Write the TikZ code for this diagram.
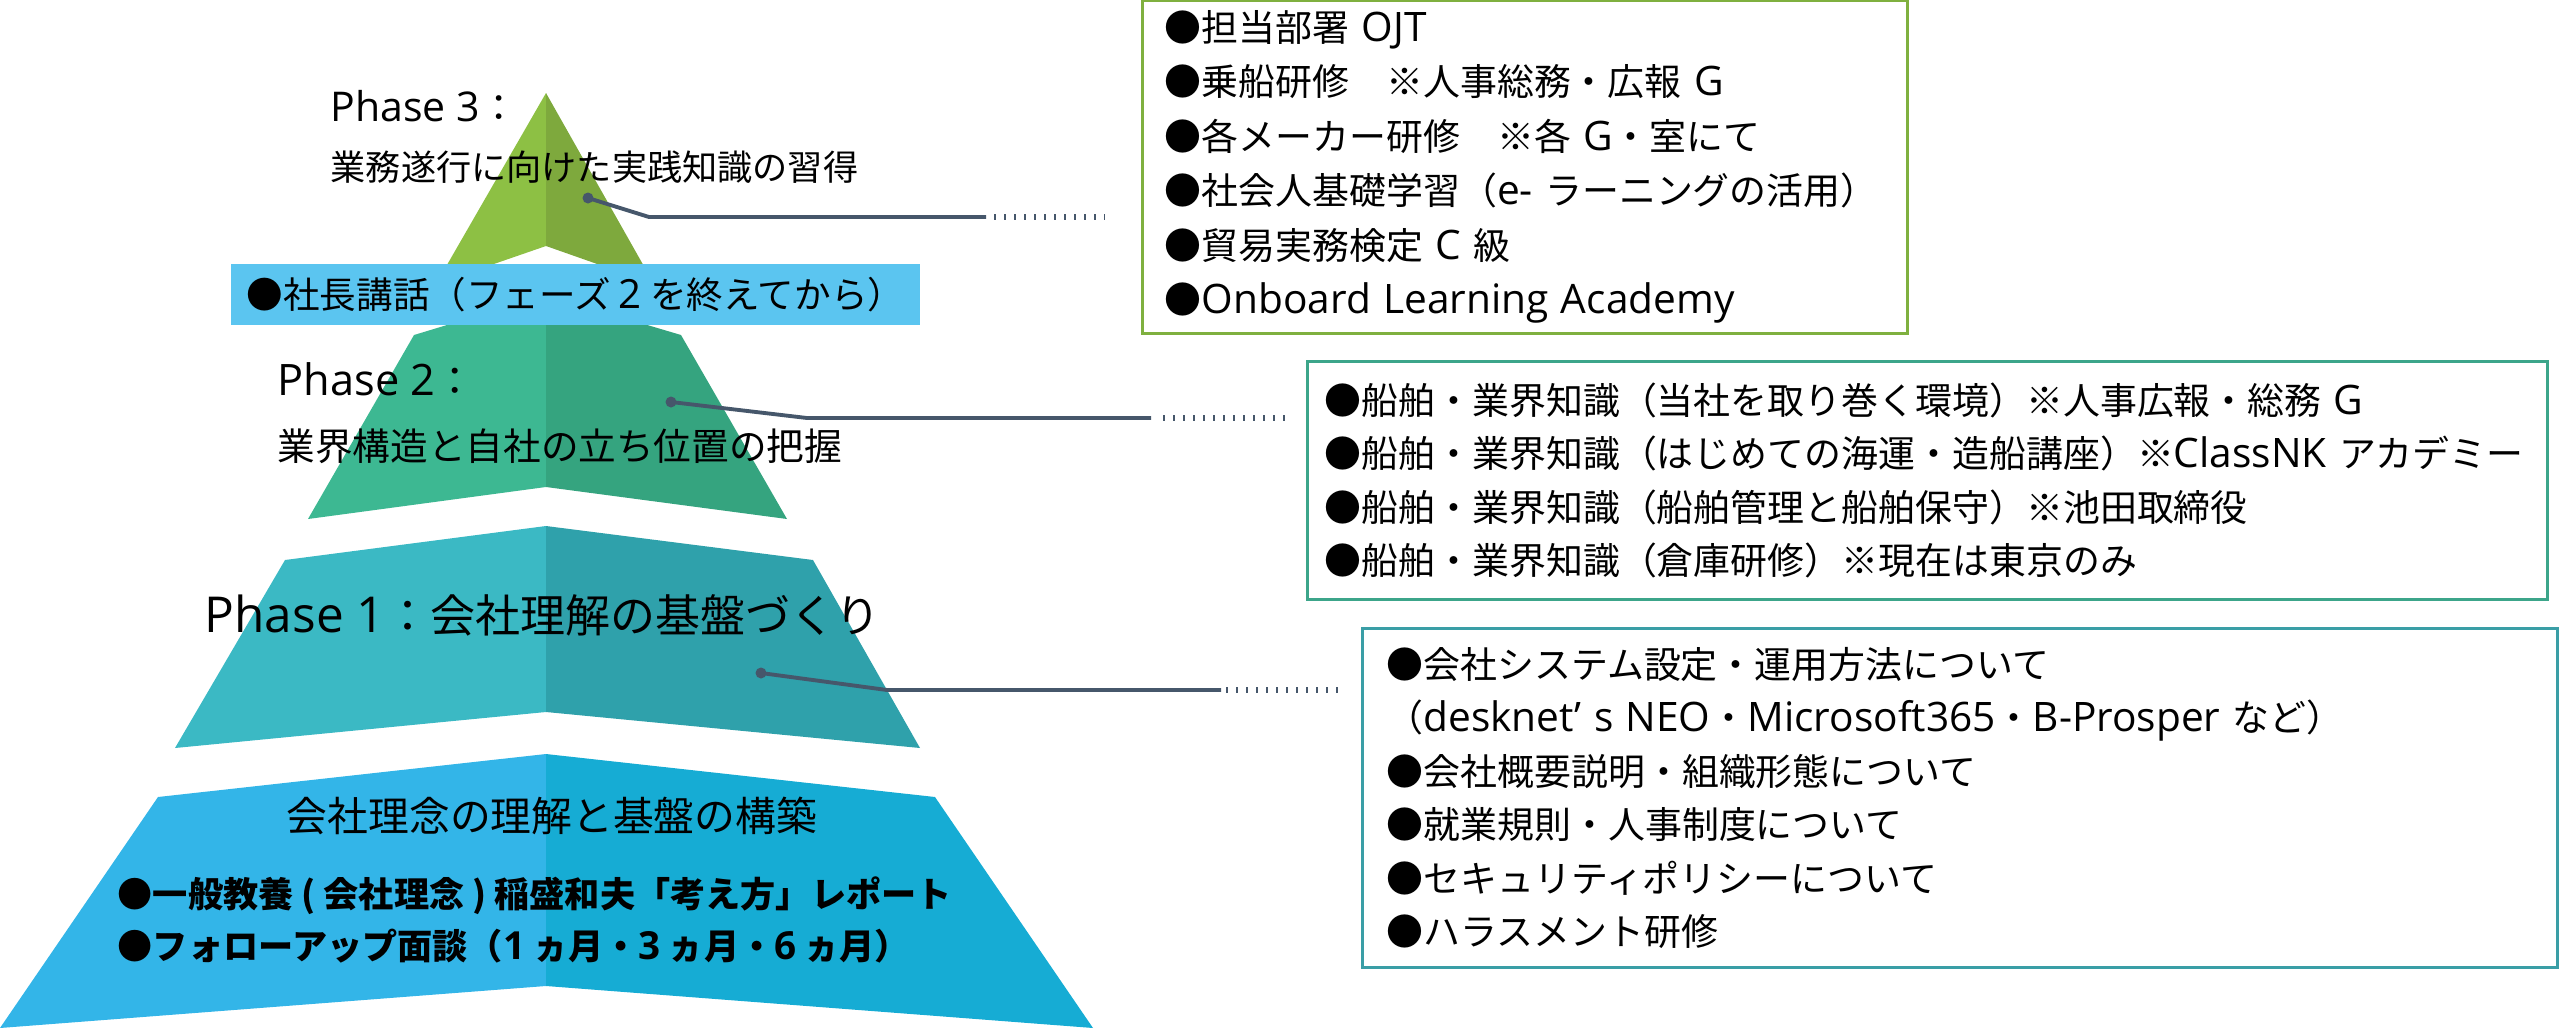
\documentclass[tikz,border=0pt]{standalone}
\usepackage{fontspec}
\setmainfont{Noto Sans CJK JP}
\newfontfamily\latinfont{Open Sans}[Scale=1.1]
\newcommand{\latn}[1]{{\latinfont #1}}

\definecolor{greenL}{HTML}{8DC044}
\definecolor{greenR}{HTML}{7EA93D}
\definecolor{mintL}{HTML}{3DB892}
\definecolor{mintR}{HTML}{35A47F}
\definecolor{tealL}{HTML}{3BB9C4}
\definecolor{tealR}{HTML}{2FA1AB}
\definecolor{skyL}{HTML}{33B5E8}
\definecolor{skyR}{HTML}{16ACD4}
\definecolor{bandblue}{HTML}{5BC5F0}
\definecolor{leadergray}{HTML}{46576B}
\definecolor{frame3}{HTML}{7FB03F}
\definecolor{frame2}{HTML}{3CA58A}
\definecolor{frame1}{HTML}{3A9EA6}

\begin{document}
\begin{tikzpicture}[x=0.01cm, y=-0.01cm,
    phasetext/.style={anchor=west, inner sep=0pt},
    infobox/.style={draw, line width=0.85pt, fill=white, align=left, inner ysep=0pt},
    dotmark/.style={circle, fill=leadergray, inner sep=0pt, minimum size=0.11cm},
    leader/.style={draw=leadergray, line width=1.1pt},
    leaderdots/.style={draw=leadergray, line width=1.6pt, dash pattern=on 0.6pt off 2.25pt}]

    \useasboundingbox (0,0) rectangle (2560,1033);

    \fill[skyL] (546,754) -- (158,797) -- (0,1028) -- (546,986) -- cycle;
    \fill[skyR] (546,754) -- (935,797) -- (1093,1028) -- (546,986) -- cycle;
    \fill[tealL] (546,526) -- (285,560) -- (175,748) -- (546,712) -- cycle;
    \fill[tealR] (546,526) -- (813,560) -- (920,748) -- (546,712) -- cycle;
    \fill[mintL] (546,295) -- (414,335) -- (308,519) -- (546,487) -- cycle;
    \fill[mintR] (546,295) -- (681,335) -- (787,519) -- (546,487) -- cycle;
    \fill[greenL] (546,93) -- (436,284) -- (546,246) -- cycle;
    \fill[greenR] (546,93) -- (654,284) -- (546,246) -- cycle;

    \node[fill=bandblue, minimum width=6.89cm, minimum height=0.61cm, inner sep=0pt, font=\fontsize{10.4}{12}\selectfont] (talk) at (575.5,294.5) {●社長講話（フェーズ \latn{2} を終えてから）};

    \node[phasetext, font=\fontsize{10.6}{12}\selectfont] (p3head) at (330,106) {\latn{Phase 3}：};
    \node[phasetext, font=\fontsize{10}{12}\selectfont] (p3goal) at (330,167) {業務遂行に向けた実践知識の習得};

    \node[phasetext, font=\fontsize{11.2}{12}\selectfont] (p2head) at (277,379) {\latn{Phase 2}：};
    \node[phasetext, font=\fontsize{10.7}{12}\selectfont] (p2goal) at (277,446) {業界構造と自社の立ち位置の把握};

    \node[phasetext, font=\fontsize{12.8}{14}\selectfont] (p1head) at (204,615) {\latn{Phase 1}：会社理解の基盤づくり};

    \node[font=\fontsize{11.6}{14}\selectfont, inner sep=0pt] (basegoal) at (552,816) {会社理念の理解と基盤の構築};
    \node[phasetext, font=\bfseries\fontsize{10}{12}\selectfont] (baseitem1) at (117,896) {●一般教養 ( 会社理念 ) 稲盛和夫「考え方」レポート};
    \node[phasetext, font=\bfseries\fontsize{10}{12}\selectfont] (baseitem2) at (117,946) {●フォローアップ面談（\latn{1} ヵ月・\latn{3} ヵ月・\latn{6} ヵ月）};

    \node[infobox, draw=frame3, minimum width=7.64cm, minimum height=3.32cm, text width=7.2cm, inner xsep=0.22cm, font=\fontsize{10.5}{15.5}\selectfont] (box3) at (1525,167) {●担当部署~\latn{OJT}\\
●乗船研修　※人事総務・広報~\latn{G}\\
●各メーカー研修　※各~\latn{G}・室にて\\
●社会人基礎学習（\latn{e-}~ラーニングの活用）\\
●貿易実務検定~\latn{C}~級\\
●\latn{Onboard~Learning~Academy}};

    \node[infobox, draw=frame2, minimum width=12.39cm, minimum height=2.37cm, text width=12.05cm, inner xsep=0.17cm, font=\fontsize{10.5}{15.2}\selectfont] (box2) at (1927.5,480.5) {●船舶・業界知識（当社を取り巻く環境）※人事広報・総務~\latn{G}\\
●船舶・業界知識（はじめての海運・造船講座）※\latn{ClassNK}~アカデミー\\
●船舶・業界知識（船舶管理と船舶保守）※池田取締役\\
●船舶・業界知識（倉庫研修）※現在は東京のみ};

    \node[infobox, draw=frame1, minimum width=11.94cm, minimum height=3.38cm, text width=11.46cm, inner xsep=0.24cm, font=\fontsize{10.5}{15.2}\selectfont] (box1) at (1960,798) {●会社システム設定・運用方法について\\
（\latn{desknet’~s~NEO}・\latn{Microsoft365}・\latn{B-Prosper}~など）\\
●会社概要説明・組織形態について\\
●就業規則・人事制度について\\
●セキュリティポリシーについて\\
●ハラスメント研修};

    \node[dotmark] (dot3) at (588,198) {};
    \coordinate (bend3) at (649,217);
    \coordinate (end3) at (986,217);
    \draw[leader] (dot3.center) -- (bend3) -- (end3);
    \draw[leaderdots, shorten <=0.08cm, shorten >=0.36cm] (end3) -- (end3 -| box3.west);

    \node[dotmark] (dot2) at (671,402) {};
    \coordinate (bend2) at (807,418);
    \coordinate (end2) at (1151,418);
    \draw[leader] (dot2.center) -- (bend2) -- (end2);
    \draw[leaderdots, shorten <=0.12cm, shorten >=0.21cm] (end2) -- (end2 -| box2.west);

    \node[dotmark] (dot1) at (761,673) {};
    \coordinate (bend1) at (887,690);
    \coordinate (end1) at (1221,690);
    \draw[leader] (dot1.center) -- (bend1) -- (end1);
    \draw[leaderdots, shorten <=0.05cm, shorten >=0.17cm] (end1) -- (end1 -| box1.west);
\end{tikzpicture}
\end{document}
